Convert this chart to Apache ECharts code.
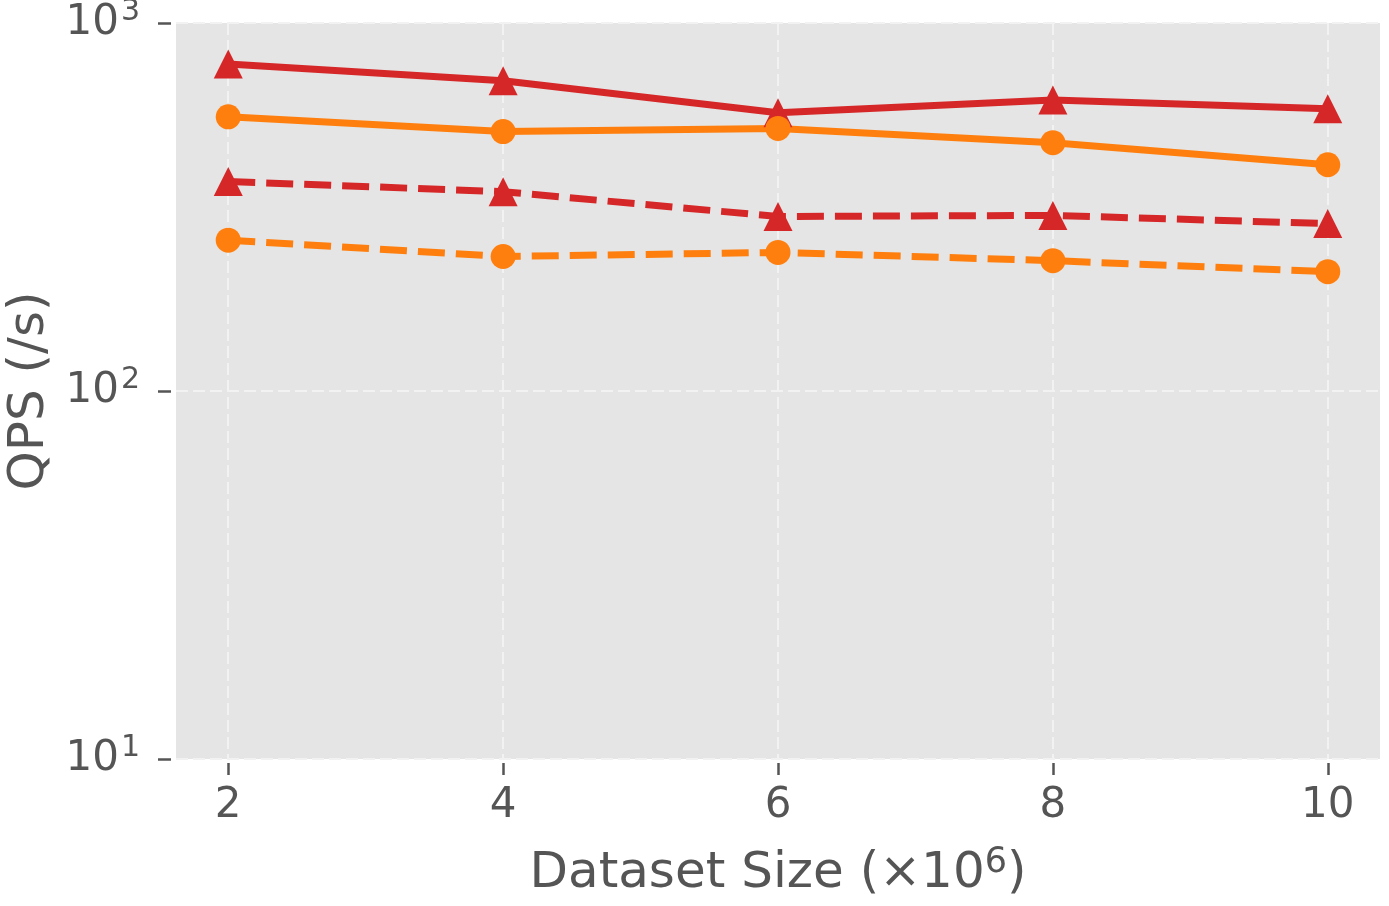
<!DOCTYPE html>
<html>
<head>
<meta charset="utf-8">
<script src="https://cdn.jsdelivr.net/npm/echarts@6/dist/echarts.min.js"></script>
<style>
  html, body { margin: 0; padding: 0; background: #fff; }
  #chart { width: 1389px; height: 906px; }
</style>
</head>
<body>
<div id="chart"></div>
<script>
// QPS against dataset size, log scale

const sizes = [2, 4, 6, 8, 10];
const xTicks = [2, 4, 6, 8, 10];
const yTicks = [10, 100, 1000];

const redSolid = [774, 697, 570, 618, 585];
const orangeSolid = [556, 507, 517, 473, 412];
const redDashed = [371, 348, 298, 300, 285];
const orangeDashed = [257, 232, 238, 226, 211];

const RED = '#d62728';
const ORANGE = '#ff7f0e';
const TXT = '#555555';
const FONT = 'DejaVu Sans';

const pairs = vals => sizes.map((s, i) => [s, vals[i]]);

const makeSeries = (vals, color, symbol, size, dashed) => ({
    type: 'line',
    data: pairs(vals),
    symbol: symbol,
    symbolSize: size,
    showAllSymbol: true,
    itemStyle: { color: color },
    lineStyle: { color: color, width: 7, type: dashed ? [27, 11] : 'solid' },
    z: 3,
    animation: false
});

const chart = echarts.init(document.getElementById('chart'));

chart.setOption({
    backgroundColor: '#ffffff',
    animation: false,
    grid: {
        left: 176, right: 9, top: 23, bottom: 147,
        outerBoundsMode: 'none',
        containLabel: false,
        show: true, backgroundColor: '#e5e5e5', borderWidth: 0
    },
    xAxis: {
        type: 'value',
        min: 1.62,
        max: 10.38,
        offset: 4,
        name: 'Dataset Size (×10{s|6})',
        nameLocation: 'middle',
        nameGap: 82,
        nameTextStyle: {
            fontFamily: FONT, fontSize: 50, color: TXT,
            rich: { s: { fontFamily: FONT, fontSize: 35, color: TXT, padding: [0, 0, 24, 0] } }
        },
        axisLine: { show: false },
        axisTick: { show: true, length: 12, lineStyle: { color: TXT, width: 2.5 }, customValues: xTicks },
        axisLabel: {
            fontFamily: FONT, fontSize: 42, color: TXT, margin: 22,
            customValues: xTicks
        },
        splitLine: { show: true, lineStyle: { color: '#f2f2f2', width: 2, type: [12, 5] } }
    },
    yAxis: {
        type: 'log',
        logBase: 10,
        min: 10,
        max: 1000,
        offset: 5,
        name: 'QPS (/s)',
        nameLocation: 'middle',
        nameGap: 113,
        nameTextStyle: { fontFamily: FONT, fontSize: 50, color: TXT },
        axisLine: { show: false },
        axisTick: { show: true, length: 13, lineStyle: { color: TXT, width: 2.5 }, customValues: yTicks },
        axisLabel: {
            margin: 31,
            customValues: yTicks,
            formatter: v => '{b|10}{s|' + Math.round(Math.log10(v)) + '}',
            rich: {
                b: { fontFamily: FONT, fontSize: 42, color: TXT },
                s: { fontFamily: FONT, fontSize: 30, color: TXT, padding: [0, 0, 22, 2] }
            }
        },
        splitLine: { show: true, lineStyle: { color: '#f2f2f2', width: 2, type: [12, 5] } }
    },
    series: [
        makeSeries(redSolid, RED, 'triangle', 29, false),
        makeSeries(orangeSolid, ORANGE, 'circle', 25, false),
        makeSeries(redDashed, RED, 'triangle', 29, true),
        makeSeries(orangeDashed, ORANGE, 'circle', 25, true)
    ]
});
</script>
</body>
</html>
